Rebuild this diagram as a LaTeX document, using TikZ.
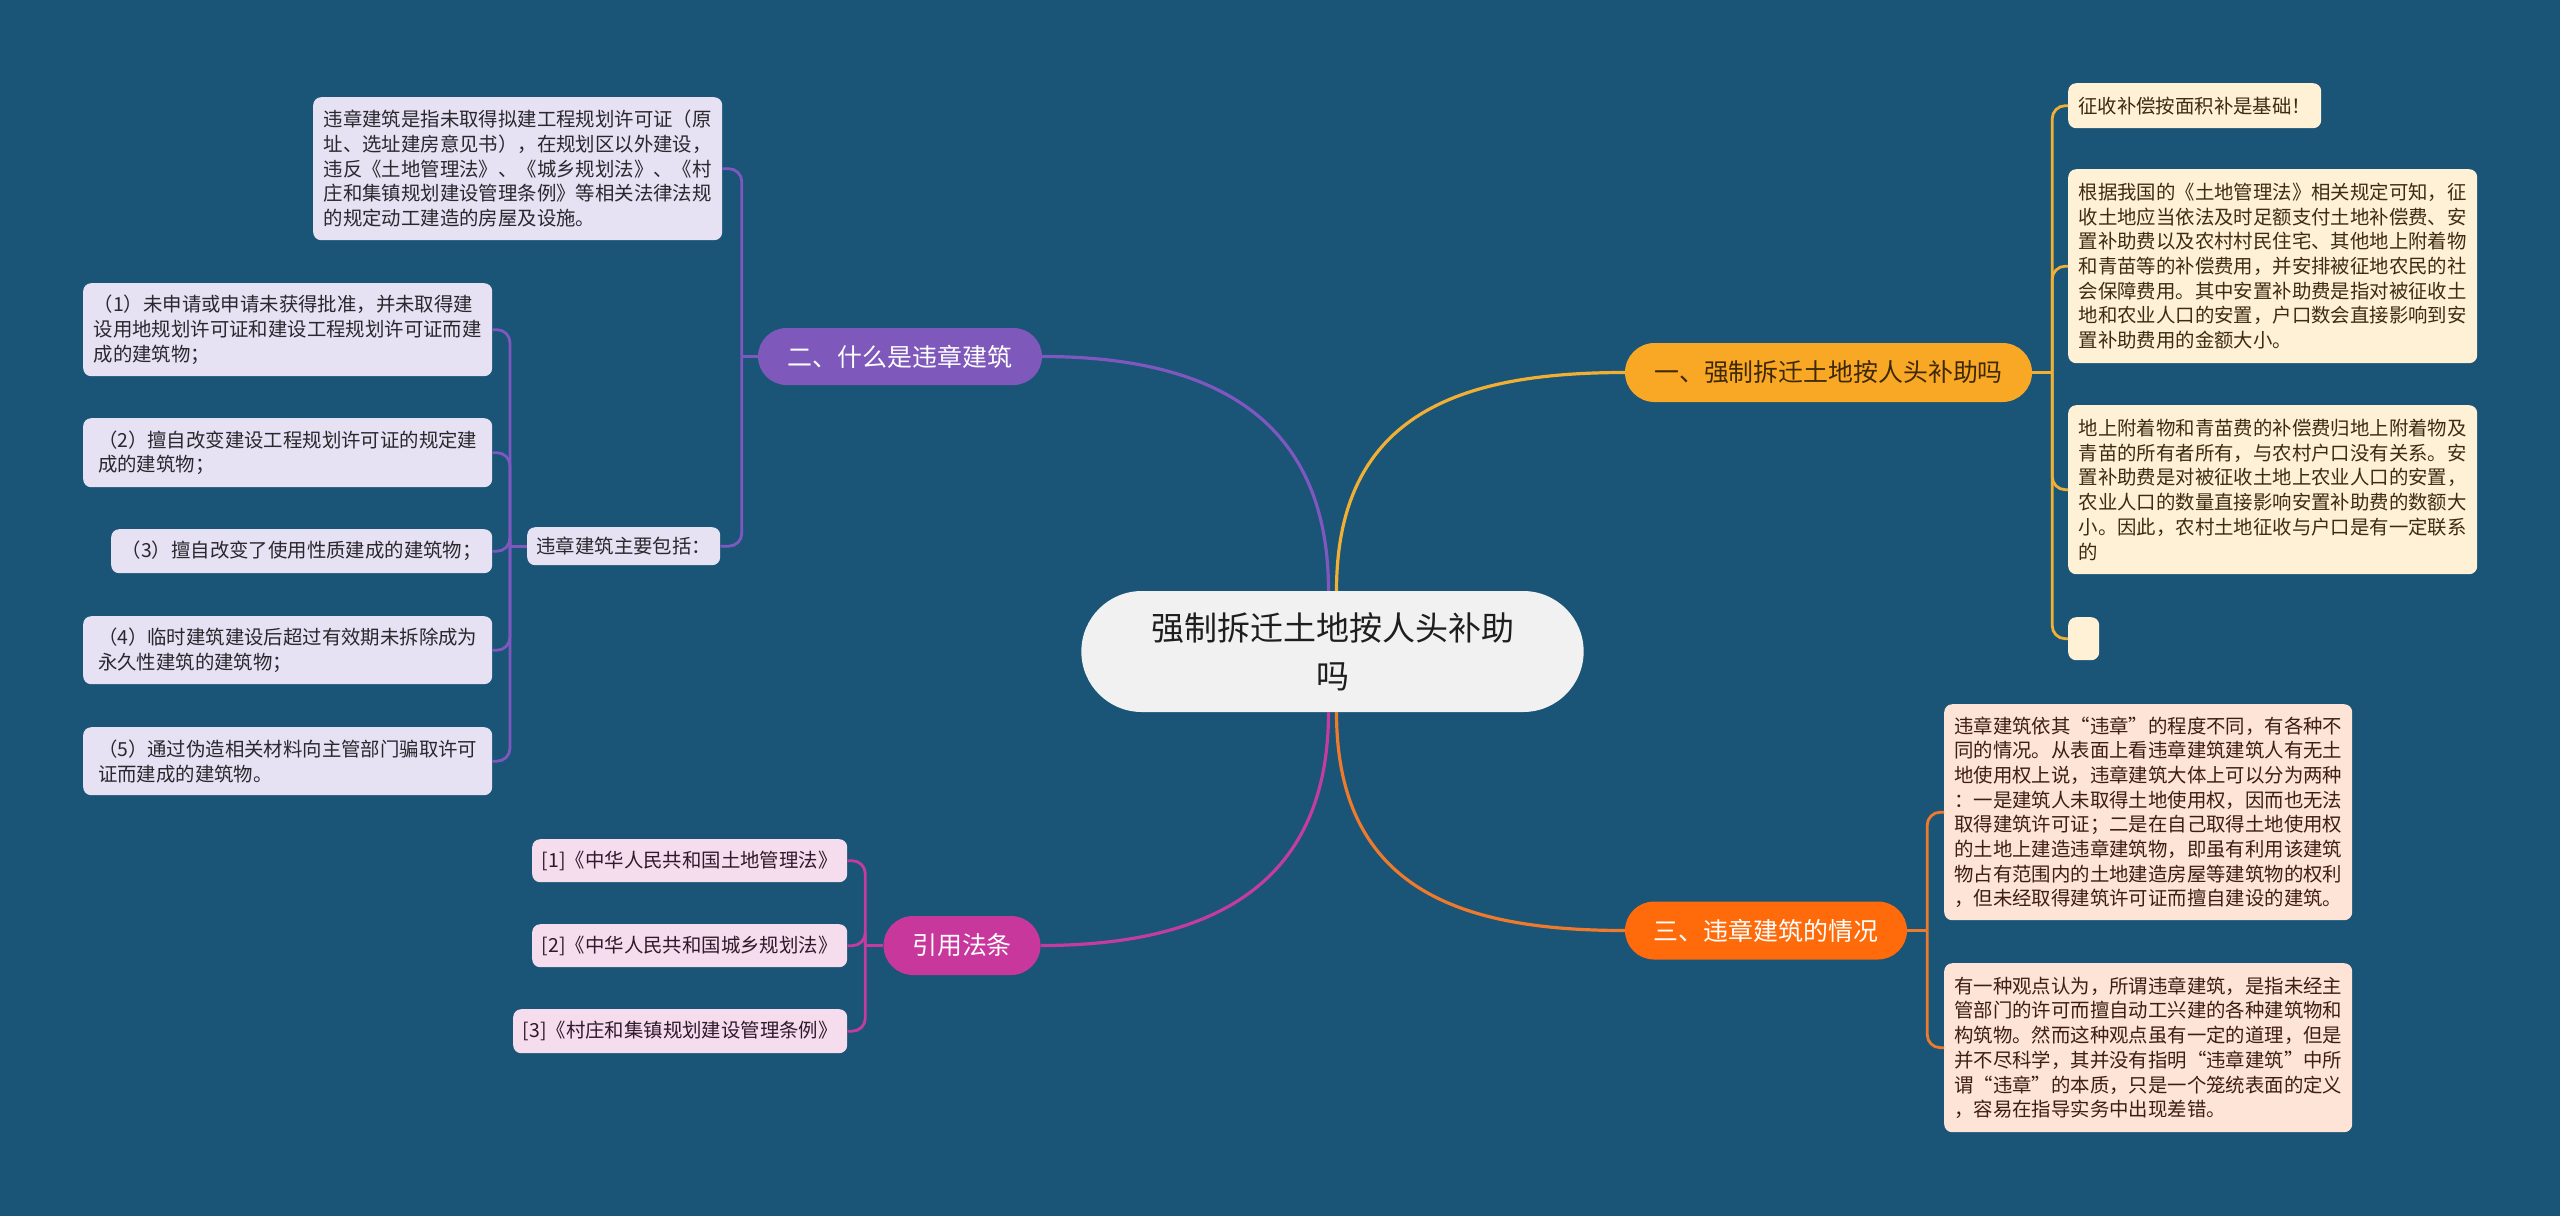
\documentclass[tikz,border=0pt]{standalone}
\usepackage{fontspec}
\setmainfont{Noto Sans CJK SC}
\usetikzlibrary{calc,shapes.misc}
\definecolor{bg}{RGB}{26,84,119}
\definecolor{ctrfill}{RGB}{241,241,241}
\definecolor{ctrtext}{RGB}{30,30,30}
\definecolor{yelfill}{RGB}{249,168,37}
\definecolor{yelline}{RGB}{240,176,52}
\definecolor{yeltext}{RGB}{62,40,6}
\definecolor{yelleaf}{RGB}{255,241,214}
\definecolor{yelleaftext}{RGB}{62,44,16}
\definecolor{purfill}{RGB}{126,88,186}
\definecolor{purline}{RGB}{126,88,190}
\definecolor{purleaf}{RGB}{230,225,243}
\definecolor{purleaftext}{RGB}{40,40,45}
\definecolor{orafill}{RGB}{255,106,10}
\definecolor{oraline}{RGB}{238,122,44}
\definecolor{oraleaf}{RGB}{253,228,214}
\definecolor{oraleaftext}{RGB}{62,30,18}
\definecolor{magfill}{RGB}{200,55,156}
\definecolor{magline}{RGB}{196,60,160}
\definecolor{magleaf}{RGB}{246,221,238}
\definecolor{magleaftext}{RGB}{46,26,42}
\begin{document}
\begin{tikzpicture}[x=1pt,y=-1pt,
  leafbox/.style={rounded corners=8pt, inner sep=0pt, align=left, anchor=north west,
    font=\fontsize{19.4pt}{24.7pt}\selectfont},
  yleaf/.style={leafbox, fill=yelleaf, text=yelleaftext},
  pleaf/.style={leafbox, fill=purleaf, text=purleaftext},
  oleaf/.style={leafbox, fill=oraleaf, text=oraleaftext},
  mleaf/.style={leafbox, fill=magleaf, text=magleaftext},
  branchbox/.style={rounded rectangle, inner sep=0pt, font=\fontsize{24.9pt}{30pt}\selectfont},
  mainline/.style={line width=3.2pt},
  subline/.style={line width=2.8pt, rounded corners=13pt},
]
\fill[bg] (0,0) rectangle (2560,1216);
\useasboundingbox (0,0) rectangle (2560,1216);

% center
\node[rounded rectangle, fill=ctrfill, text=ctrtext, minimum width=509pt, minimum height=121pt,
  align=center, font=\fontsize{33pt}{48pt}\selectfont] (ctr) at (1332.5,651.5) {强制拆迁土地按人头补助\\吗};

% branches
\node[branchbox, fill=yelfill, text=yeltext, minimum width=407pt, minimum height=59pt] (b1) at (1828.5,372.5) {一、强制拆迁土地按人头补助吗};
\node[branchbox, fill=purfill, text=white, minimum width=284pt, minimum height=57pt] (b2) at (900,356.5) {二、什么是违章建筑};
\node[branchbox, fill=orafill, text=white, minimum width=282pt, minimum height=58pt] (b3) at (1766,930.5) {三、违章建筑的情况};
\node[branchbox, fill=magfill, text=white, minimum width=157pt, minimum height=59pt] (b4) at (962,945.5) {引用法条};

% branch 1 leaves
\node[yleaf, minimum width=253pt, minimum height=45pt] (y1) at (2068,83) {征收补偿按面积补是基础！};
\node[yleaf, minimum width=409pt, minimum height=194pt] (y2) at (2068,169) {根据我国的《土地管理法》相关规定可知，征\\收土地应当依法及时足额支付土地补偿费、安\\置补助费以及农村村民住宅、其他地上附着物\\和青苗等的补偿费用，并安排被征地农民的社\\会保障费用。其中安置补助费是指对被征收土\\地和农业人口的安置，户口数会直接影响到安\\置补助费用的金额大小。};
\node[yleaf, minimum width=409pt, minimum height=169pt] (y3) at (2068,405) {地上附着物和青苗费的补偿费归地上附着物及\\青苗的所有者所有，与农村户口没有关系。安\\置补助费是对被征收土地上农业人口的安置，\\农业人口的数量直接影响安置补助费的数额大\\小。因此，农村土地征收与户口是有一定联系\\的};
\node[yleaf, minimum width=31pt, minimum height=43pt] (y4) at (2068,617) {};

% branch 2 leaves
\node[pleaf, minimum width=409pt, minimum height=143pt] (pa) at (313,97) {违章建筑是指未取得拟建工程规划许可证（原\\址、选址建房意见书），在规划区以外建设，\\违反《土地管理法》、《城乡规划法》、《村\\庄和集镇规划建设管理条例》等相关法律法规\\的规定动工建造的房屋及设施。};
\node[pleaf, minimum width=193pt, minimum height=38pt] (pb) at (527,527) {违章建筑主要包括：};
\node[pleaf, minimum width=409pt, minimum height=93pt] (p1) at (83,283) {（1）未申请或申请未获得批准，并未取得建\\设用地规划许可证和建设工程规划许可证而建\\成的建筑物；};
\node[pleaf, minimum width=409pt, minimum height=69pt] (p2) at (83,418) {（2）擅自改变建设工程规划许可证的规定建\\成的建筑物；};
\node[pleaf, minimum width=381pt, minimum height=44pt] (p3) at (111,529) {（3）擅自改变了使用性质建成的建筑物；};
\node[pleaf, minimum width=409pt, minimum height=68pt] (p4) at (83,616) {（4）临时建筑建设后超过有效期未拆除成为\\永久性建筑的建筑物；};
\node[pleaf, minimum width=409pt, minimum height=68pt] (p5) at (83,727) {（5）通过伪造相关材料向主管部门骗取许可\\证而建成的建筑物。};

% branch 3 leaves
\node[oleaf, minimum width=408pt, minimum height=216pt] (o1) at (1944,704) {违章建筑依其“违章”的程度不同，有各种不\\同的情况。从表面上看违章建筑建筑人有无土\\地使用权上说，违章建筑大体上可以分为两种\\：一是建筑人未取得土地使用权，因而也无法\\取得建筑许可证；二是在自己取得土地使用权\\的土地上建造违章建筑物，即虽有利用该建筑\\物占有范围内的土地建造房屋等建筑物的权利\\，但未经取得建筑许可证而擅自建设的建筑。};
\node[oleaf, minimum width=408pt, minimum height=169pt] (o2) at (1944,963) {有一种观点认为，所谓违章建筑，是指未经主\\管部门的许可而擅自动工兴建的各种建筑物和\\构筑物。然而这种观点虽有一定的道理，但是\\并不尽科学，其并没有指明“违章建筑”中所\\谓“违章”的本质，只是一个笼统表面的定义\\，容易在指导实务中出现差错。};

% branch 4 leaves
\node[mleaf, minimum width=315pt, minimum height=43pt] (m1) at (532,839) {[1]《中华人民共和国土地管理法》};
\node[mleaf, minimum width=315pt, minimum height=43pt] (m2) at (532,924) {[2]《中华人民共和国城乡规划法》};
\node[mleaf, minimum width=334pt, minimum height=44pt] (m3) at (513,1009) {[3]《村庄和集镇规划建设管理条例》};

% center connectors
\draw[mainline, purline] ([xshift=-4pt]ctr.north) .. controls +(0,-180) and +(160,0) .. (b2.east);
\draw[mainline, yelline] ([xshift=4pt]ctr.north) .. controls +(0,-180) and +(-160,0) .. (b1.west);
\draw[mainline, oraline] ([xshift=4pt]ctr.south) .. controls +(0,180) and +(-160,0) .. (b3.west);
\draw[mainline, magline] ([xshift=-4pt]ctr.south) .. controls +(0,180) and +(160,0) .. (b4.east);

% branch 1 bracket
\draw[subline, yelline] (b1.east) -- ++(20,0) coordinate (j1);
\foreach \c in {y1,y2,y3,y4} \draw[subline, yelline] (j1) |- (\c.west);
% branch 2 bracket
\draw[subline, purline] (b2.west) -- ++(-16,0) coordinate (j2);
\foreach \c in {pa,pb} \draw[subline, purline] (j2) |- (\c.east);
\draw[subline, purline] (pb.west) -- ++(-17,0) coordinate (j2b);
\foreach \c in {p1,p2,p3,p4,p5} \draw[subline, purline] (j2b) |- (\c.east);
% branch 3 bracket
\draw[subline, oraline] (b3.east) -- ++(20,0) coordinate (j3);
\foreach \c in {o1,o2} \draw[subline, oraline] (j3) |- (\c.west);
% branch 4 bracket
\draw[subline, magline] (b4.west) -- ++(-18,0) coordinate (j4);
\foreach \c in {m1,m2,m3} \draw[subline, magline] (j4) |- (\c.east);
\end{tikzpicture}
\end{document}
